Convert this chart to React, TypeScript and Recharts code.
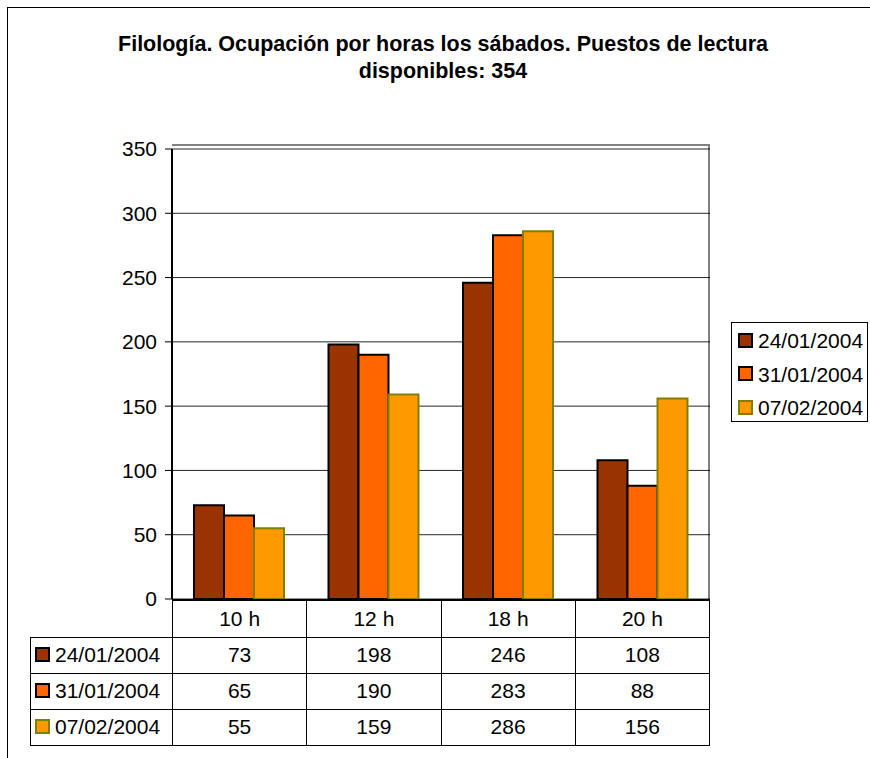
import { BarChart, Bar, XAxis, YAxis, CartesianGrid } from 'recharts'

const hours = ['10 h', '12 h', '18 h', '20 h']
const serie2401 = [73, 198, 246, 108]
const serie3101 = [65, 190, 283, 88]
const serie0702 = [55, 159, 286, 156]
const seriesNames = ['24/01/2004', '31/01/2004', '07/02/2004']
const yTicks = [0, 50, 100, 150, 200, 250, 300, 350]

const fills = ['#993300', '#FF6600', '#FF9900']
const strokes = ['#000000', '#000000', '#808000']
const seriesValues = [serie2401, serie3101, serie0702]

const data = hours.map((hour, i) => ({
  hour,
  s0: serie2401[i],
  s1: serie3101[i],
  s2: serie0702[i]
}))

const font = '"Liberation Sans", Arial, sans-serif'

const Swatch = ({ i }: { i: number }) => (
  <span
    style={{
      display: 'inline-block',
      width: 11,
      height: 11,
      background: fills[i],
      border: `2px solid ${strokes[i]}`,
      marginRight: 5,
      verticalAlign: 'middle',
      position: 'relative',
      top: -2
    }}
  />
)

const App = () => {
  const colW = (709 - 172) / hours.length
  const cell = { borderRight: '1.5px solid #000', textAlign: 'center' as const, padding: 0 }

  return (
    <div
      style={{
        position: 'absolute',
        left: 0,
        top: 0,
        width: 870,
        height: 758,
        background: '#fff',
        fontFamily: font,
        color: '#000',
        overflow: 'hidden'
      }}
    >
      {/* outer chart border */}
      <div
        style={{
          position: 'absolute',
          left: 7,
          top: 7,
          width: 880,
          height: 770,
          borderTop: '1.5px solid #000',
          borderLeft: '1.5px solid #000'
        }}
      />

      <div
        style={{
          position: 'absolute',
          left: 43,
          top: 31,
          width: 800,
          textAlign: 'center',
          fontWeight: 'bold',
          fontSize: 21.5,
          lineHeight: '27px'
        }}
      >
        Filología. Ocupación por horas los sábados. Puestos de lectura
        <br />
        disponibles: 354
      </div>

      {/* plot area frame (grey top/right) */}
      <div
        style={{
          position: 'absolute',
          left: 172,
          top: 144,
          width: 536,
          height: 455,
          borderTop: '2px solid #808080',
          borderRight: '2px solid #808080'
        }}
      />

      <div style={{ position: 'absolute', left: 0, top: 0 }}>
        <BarChart
          width={870}
          height={758}
          data={data}
          margin={{ top: 149, left: 112, right: 160, bottom: 159 }}
          barCategoryGap={22}
          barGap={0}
        >
          <CartesianGrid vertical={false} stroke="#000" strokeOpacity={0.85} />
          <XAxis dataKey="hour" hide />
          <YAxis
            width={60}
            domain={[0, 350]}
            ticks={yTicks}
            interval={0}
            tick={{ fontSize: 21, fill: '#000', fontFamily: font }}
            tickSize={7}
            tickMargin={8}
            axisLine={{ stroke: '#000', strokeWidth: 2 }}
            tickLine={{ stroke: '#000' }}
          />
          {seriesNames.map((name, i) => (
            <Bar
              key={name}
              dataKey={`s${i}`}
              name={name}
              fill={fills[i]}
              stroke={strokes[i]}
              strokeWidth={2}
              isAnimationActive={false}
            />
          ))}
        </BarChart>
      </div>

      {/* legend */}
      <div
        style={{
          position: 'absolute',
          left: 731,
          top: 322,
          width: 137,
          height: 100,
          border: '1px solid #000',
          fontSize: 21,
          boxSizing: 'border-box',
          paddingTop: 1,
          paddingLeft: 6
        }}
      >
        {seriesNames.map((name, i) => (
          <div key={name} style={{ height: 33.5, lineHeight: '33.5px', whiteSpace: 'nowrap' }}>
            <Swatch i={i} />
            {name}
          </div>
        ))}
      </div>

      {/* data table */}
      <table
        style={{
          position: 'absolute',
          left: 30,
          top: 599,
          borderCollapse: 'collapse',
          tableLayout: 'fixed',
          fontSize: 21,
          fontFamily: font
        }}
      >
        <colgroup>
          <col style={{ width: 142 }} />
          {hours.map((h) => (
            <col key={h} style={{ width: colW }} />
          ))}
        </colgroup>
        <tbody>
          <tr style={{ height: 37 }}>
            <td style={{ padding: 0, borderRight: '1.5px solid #000' }} />
            {hours.map((h) => (
              <td key={h} style={{ ...cell, borderTop: '2px solid #000' }}>
                {h}
              </td>
            ))}
          </tr>
          {seriesNames.map((name, i) => (
            <tr key={name} style={{ height: 36 }}>
              <td
                style={{
                  padding: '0 0 0 4px',
                  borderTop: '1.5px solid #000',
                  borderBottom: '1.5px solid #000',
                  borderLeft: '1.5px solid #000',
                  borderRight: '1.5px solid #000',
                  whiteSpace: 'nowrap'
                }}
              >
                <Swatch i={i} />
                {name}
              </td>
              {seriesValues[i].map((v, j) => (
                <td key={j} style={{ ...cell, borderTop: '1.5px solid #000', borderBottom: '1.5px solid #000' }}>
                  {v}
                </td>
              ))}
            </tr>
          ))}
        </tbody>
      </table>
    </div>
  )
}

export default App
